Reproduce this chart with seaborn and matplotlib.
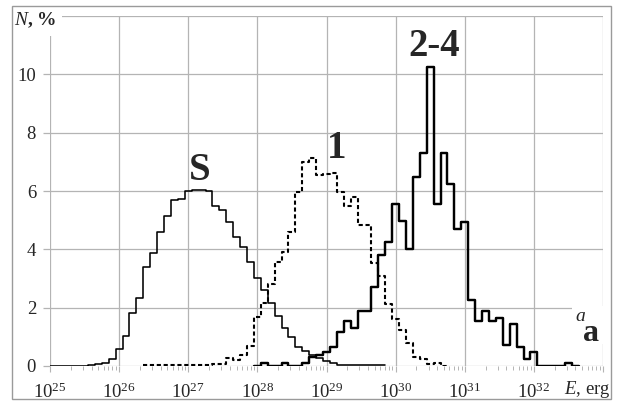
import numpy as np
import matplotlib
matplotlib.use("Agg")
import matplotlib.pyplot as plt
import seaborn as sns
from matplotlib.patches import Rectangle
from matplotlib.ticker import FixedLocator, FixedFormatter

# Energy distributions of events, N (%) per 0.1-dex bin of log10(E / erg)
BIN_WIDTH = 0.1

s_start = 25.0
s_percent = [0, 0, 0, 0, 0, 0, 0.02, 0.06, 0.09, 0.23,
             0.58, 1.03, 1.83, 2.32, 3.40, 3.89, 4.58, 5.15, 5.68, 5.74,
             6.00, 6.05, 6.02, 6.00, 5.47, 5.34, 4.93, 4.44, 4.07, 3.58,
             3.01, 2.60, 2.15, 1.70, 1.32, 1.00, 0.66, 0.52, 0.38, 0.26,
             0.17, 0.09, 0.05, 0.02, 0.02, 0.02, 0.02, 0.02, 0.02]

one_start = 26.4
one_percent = [0.02, 0.02, 0.02, 0.02, 0.02, 0.02, 0.02, 0.02, 0.02, 0.04,
               0.06, 0.08, 0.28, 0.19, 0.37, 0.67,
               1.68, 2.17, 2.80, 3.57, 3.90, 4.59, 5.97, 6.98, 7.13, 6.56,
               6.60, 6.62, 5.97, 5.48, 5.80, 4.85, 4.83, 3.52, 3.10, 2.12,
               1.62, 1.23, 0.78, 0.31, 0.24, 0.07, 0.09, 0.0]

two_start = 28.0
two_percent = [0, 0.11, 0, 0, 0.12, 0, 0, 0.10, 0.30, 0.38,
               0.49, 0.65, 1.18, 1.56, 1.30, 1.87, 1.88, 2.72, 3.80, 4.25,
               5.55, 4.96, 4.01, 6.48, 7.31, 10.24, 5.55, 7.31, 6.25, 4.70,
               4.95, 2.26, 1.53, 1.88, 1.53, 1.66, 0.72, 1.43, 0.65, 0.24,
               0.49, 0, 0, 0, 0, 0.11, 0]

decades = [25, 26, 27, 28, 29, 30, 31, 32, 33]
x_tick_labels = [r"$10^{%d}$" % d for d in decades[:-1]] + [""]
y_ticks = [0, 2, 4, 6, 8, 10, 12]
y_tick_labels = ["0", "2", "4", "6", "8", "10", ""]

sns.set_style("white")
plt.rcParams["font.family"] = ["Liberation Serif", "DejaVu Serif"]
plt.rcParams["mathtext.fontset"] = "custom"
plt.rcParams["mathtext.rm"] = "Liberation Serif"
plt.rcParams["mathtext.it"] = "Liberation Serif:italic"
plt.rcParams["mathtext.bf"] = "Liberation Serif:bold"

GRID = "#b4b4b4"

fig = plt.figure(figsize=(6.21, 4.01), dpi=100)
fig.patch.set_facecolor("white")
ax = fig.add_axes([50 / 621, 35 / 401, 553 / 621, 350 / 401])


def draw(start, values, **kws):
    n = len(values)
    x = np.round(start + BIN_WIDTH * np.arange(n), 2)
    lo = start - BIN_WIDTH / 2
    hi = start + BIN_WIDTH * (n - 0.5)
    sns.histplot(x=x, weights=np.asarray(values, dtype=float), bins=n,
                 binrange=(lo, hi), element="step", fill=False,
                 color="black", ax=ax, **kws)


draw(s_start, s_percent, linewidth=1.15)
draw(one_start, one_percent, linewidth=1.5, linestyle=(0, (2.0, 1.3)))
draw(two_start, two_percent, linewidth=1.75)

ax.set_xlim(25, 33)
ax.set_ylim(0, 12)
ax.set_xlabel("")
ax.set_ylabel("")

minor = [d + np.log10(k) for d in decades[:-1] for k in range(2, 10)]
ax.xaxis.set_major_locator(FixedLocator(decades))
ax.xaxis.set_major_formatter(FixedFormatter(x_tick_labels))
ax.xaxis.set_minor_locator(FixedLocator(minor))
ax.yaxis.set_major_locator(FixedLocator(y_ticks))
ax.yaxis.set_major_formatter(FixedFormatter(y_tick_labels))

ax.grid(True, which="major", color=GRID, linewidth=0.9)
ax.set_axisbelow(True)
for sp in ax.spines.values():
    sp.set_visible(False)

ax.tick_params(axis="x", which="major", direction="out", length=4.2, width=0.8,
               color=GRID, pad=7.5, labelsize=13.5, bottom=True)
ax.tick_params(axis="x", which="minor", direction="out", length=3, width=0.7,
               color=GRID, bottom=True)
ax.tick_params(axis="y", which="major", direction="out", length=5, width=0.9,
               color=GRID, pad=5, labelsize=13.5, left=True)

# curve labels
ax.text(27.17, 6.71, "S", fontsize=28, fontweight="bold", ha="center", va="center")
ax.text(29.15, 7.45, "1", fontsize=28, fontweight="bold", ha="center", va="center")
ax.text(30.56, 10.95, "2-4", fontsize=28, fontweight="bold", ha="center", va="center")

# axis captions
ax.text(-0.027, 0.987, r"$\mathit{N}$, %", transform=ax.transAxes, fontsize=14,
        fontweight="bold", ha="center", va="center", clip_on=False,
        bbox=dict(facecolor="white", edgecolor="none", pad=4))
ax.text(32.77, -0.82, r"$\mathit{E}$, erg", fontsize=13.5, ha="center", va="center",
        clip_on=False)

# panel letter
ax.add_patch(Rectangle((32.55, 0.75), 0.6, 1.3, facecolor="white", edgecolor="none",
                       clip_on=False, zorder=3))
ax.text(32.67, 1.70, "a", fontsize=14, fontstyle="italic", ha="center",
        va="center", zorder=4)
ax.text(32.83, 1.12, "a", fontsize=23, fontweight="bold", ha="center",
        va="center", zorder=4)

# frame around the whole figure
fig.patches.append(Rectangle((12 / 621, 2 / 401), 599 / 621, 393 / 401,
                             transform=fig.transFigure, fill=False,
                             edgecolor="#9a9a9a", linewidth=1.0))

fig.savefig("out.png", dpi=100)
